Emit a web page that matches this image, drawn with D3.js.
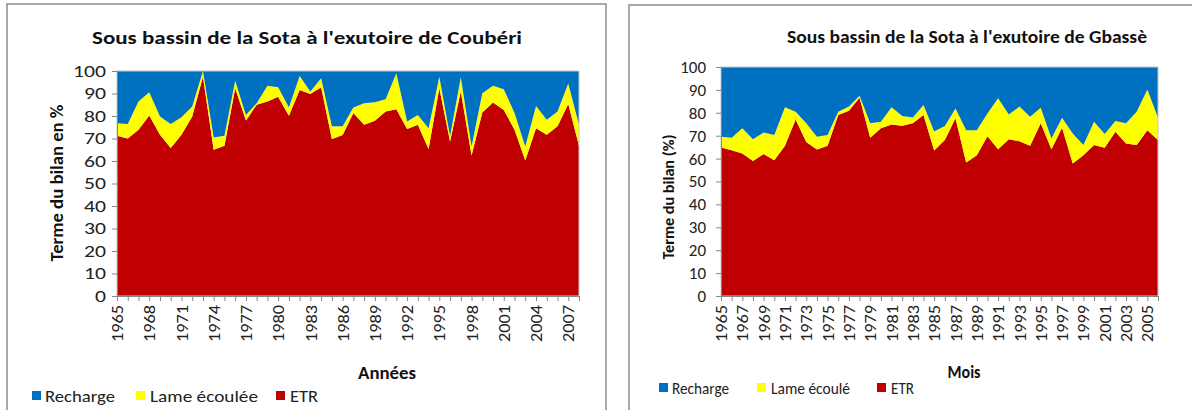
<!DOCTYPE html>
<html>
<head>
<meta charset="utf-8">
<script src="https://cdn.jsdelivr.net/npm/d3@7"></script>
<style>
  body { margin: 0; background: #fff; }
  svg { display: block; font-family: Carlito, Lato, sans-serif; }
</style>
</head>
<body>
<svg id="chart" width="1192" height="410"></svg>
<script>
// ---- Coubéri (left) ----
const yearsA = [1965,1966,1967,1968,1969,1970,1971,1972,1973,1974,1975,1976,1977,1978,1979,1980,1981,1982,1983,1984,1985,1986,
  1987,1988,1989,1990,1991,1992,1993,1994,1995,1996,1997,1998,1999,2000,2001,2002,2003,2004,2005,2006,2007,2008];
const etrA = [71.2,70,73.9,80.2,71.7,65.8,71.7,79.8,97.5,65,66.8,92.3,78,85,86.4,88.6,80.1,91.6,89.8,92.8,69.8,71.6,
  81.3,76.1,77.9,82,83,74.2,76.1,65.3,92.3,68.7,90.9,62.5,81.6,86,82.7,73.9,60.2,74.6,71.7,75.4,85.3,66.8];
const lameA = [5.6,6.4,12.5,10.4,8.1,10.6,7.7,4.4,2.5,5.5,4.4,3.4,2.5,0.7,7,4.2,3.7,6.2,1.1,4,5.6,3.8,
  2.5,9.6,8.2,5.5,16,3.4,4.4,9.3,5.2,2.3,6.3,4,8.5,7.4,9.2,7.4,6.3,9.9,6.6,6.6,9.2,9.3];
const rechargeA = [23.2,23.6,13.6,9.4,20.2,23.6,20.6,15.8,0,29.5,28.8,4.3,19.5,14.3,6.6,7.2,16.2,2.2,9.1,3.2,24.6,24.6,
  16.2,14.3,13.9,12.5,1,22.4,19.5,25.4,2.5,29,2.8,33.5,9.9,6.6,8.1,18.7,33.5,15.5,21.7,18,5.5,23.9];
const labelYearsA = [1965,1968,1971,1974,1977,1980,1983,1986,1989,1992,1995,1998,2001,2004,2007];

// ---- Gbassè (right) ----
const yearsB = [1965,1966,1967,1968,1969,1970,1971,1972,1973,1974,1975,1976,1977,1978,1979,1980,1981,1982,1983,1984,1985,
  1986,1987,1988,1989,1990,1991,1992,1993,1994,1995,1996,1997,1998,1999,2000,2001,2002,2003,2004,2005,2006];
const etrB = [64.9,63.7,62.2,58.9,62,59.3,65.6,77.1,67.3,64,65.6,79,80.9,86.6,69.1,73.2,74.9,74.3,75.4,79,63.5,
  68.1,77.6,58.3,61.5,69.8,64.1,68.4,67.6,65.6,75.4,64.1,73.5,57.9,61.5,65.9,64.7,71.7,66.6,65.9,72.4,68.1];
const lameB = [4.6,5.4,11,9.5,9.4,11,16.8,3.4,8.1,5.5,4.7,1.5,1.8,0.9,6.3,2.9,7.5,4.3,2.6,4.4,8.3,
  6.1,4.3,14.1,10.9,9.9,22.2,10.9,15.1,12.7,6.8,4.7,4.3,13.1,4.4,10.2,6,4.7,8.8,14.6,17.8,9.7];
const rechargeB = [30.5,30.9,26.8,31.6,28.6,29.7,17.6,19.5,24.6,30.5,29.7,19.5,17.3,12.5,24.6,23.9,17.6,21.4,22,16.6,28.2,
  25.8,18.1,27.6,27.6,20.3,13.7,20.7,17.3,21.7,17.8,31.2,22.2,29,34.1,23.9,29.3,23.6,24.6,19.5,9.8,22.2];
const labelYearsB = [1965,1967,1969,1971,1973,1975,1977,1979,1981,1983,1985,1987,1989,1991,1993,1995,1997,1999,2001,2003,2005];

const yTicks = [0,10,20,30,40,50,60,70,80,90,100];
const keys = ["etr", "lame", "recharge"];
const colors = { recharge: "#0070C0", lame: "#FFFF00", etr: "#C00000" };

const svg = d3.select("#chart");

// the original picture is a bit stretched sideways, so text widths are forced
function fit(sel, len) {
  return sel.attr("textLength", len).attr("lengthAdjust", "spacingAndGlyphs");
}

function drawChart(c) {
  const rows = c.years.map((y, i) => ({ year: y, etr: c.etr[i], lame: c.lame[i], recharge: c.recharge[i] }));
  const series = d3.stack().keys(keys)(rows);

  const x = d3.scaleLinear().domain(d3.extent(c.years)).range([c.plot.left, c.plot.right]);
  const y = d3.scaleLinear().domain([0, 100]).range([c.plot.bottom, c.plot.top]);

  // frame
  svg.append("rect")
    .attr("x", c.frame.x).attr("y", c.frame.y)
    .attr("width", c.frame.w).attr("height", c.frame.h)
    .attr("fill", "none").attr("stroke", "#8c8c8c").attr("stroke-width", 1.5);

  const area = d3.area()
    .x(d => x(d.data.year))
    .y0(d => y(d[0]))
    .y1(d => y(d[1]));

  svg.append("g").selectAll("path")
    .data(series)
    .join("path")
    .attr("fill", d => colors[d.key])
    .attr("d", area);

  // plot border
  svg.append("rect")
    .attr("x", c.plot.left).attr("y", c.plot.top)
    .attr("width", c.plot.right - c.plot.left).attr("height", c.plot.bottom - c.plot.top)
    .attr("fill", "none").attr("stroke", "#c8c8c8").attr("stroke-width", 1);

  // y axis
  const yAxis = svg.append("g")
    .attr("transform", `translate(${c.plot.left},0)`)
    .call(d3.axisLeft(y).tickValues(yTicks).tickSize(5).tickSizeOuter(0).tickPadding(c.yPad));
  yAxis.selectAll("text")
    .attr("font-size", c.yFont).attr("fill", "#222").attr("font-family", "Carlito, Lato, sans-serif")
    .each(function() { fit(d3.select(this), this.textContent.length * c.yDigit); });

  // x axis
  const xAxis = svg.append("g")
    .attr("transform", `translate(0,${c.plot.bottom})`)
    .call(d3.axisBottom(x).tickValues(c.years).tickSize(5).tickSizeOuter(0)
      .tickFormat(d => c.labels.includes(d) ? d : ""));
  xAxis.selectAll("text")
    .attr("font-size", 16).attr("fill", "#222").attr("font-family", "Carlito, Lato, sans-serif")
    .attr("text-anchor", "end")
    .attr("transform", "rotate(-90)")
    .attr("x", -9).attr("y", 0).attr("dy", "0.35em")
    .filter(function() { return this.textContent !== ""; })
    .call(fit, 37);

  [yAxis, xAxis].forEach(g => g.selectAll("path, line").attr("stroke", "#868686"));

  // titles
  svg.append("text")
    .attr("x", c.title.x).attr("y", c.title.y)
    .attr("text-anchor", "middle").attr("font-weight", c.title.weight)
    .attr("font-size", c.title.size).attr("fill", "#111")
    .text(c.title.text)
    .call(fit, c.title.len);

  svg.append("text")
    .attr("transform", `translate(${c.yTitle.x},${c.yTitle.y}) rotate(-90)`)
    .attr("text-anchor", "middle").attr("font-weight", "bold")
    .attr("font-size", c.yTitle.size).attr("fill", "#111")
    .text(c.yTitle.text)
    .call(fit, c.yTitle.len);

  svg.append("text")
    .attr("x", c.xTitle.x).attr("y", c.xTitle.y)
    .attr("text-anchor", "middle").attr("font-weight", "bold")
    .attr("font-size", 17).attr("fill", "#111")
    .text(c.xTitle.text)
    .call(fit, c.xTitle.len);

  // legend
  const lg = svg.append("g").selectAll("g")
    .data(c.legend)
    .join("g")
    .attr("transform", d => `translate(${d.x},${c.legendY})`);
  lg.append("rect")
    .attr("x", 0).attr("y", -5).attr("width", 9).attr("height", 9)
    .attr("fill", d => colors[d.key]);
  lg.append("text")
    .attr("x", d => d.tx).attr("y", 0).attr("dy", "0.35em")
    .attr("font-size", 17).attr("fill", "#222")
    .text(d => d.label)
    .each(function(d) { fit(d3.select(this), d.len); });
}

drawChart({
  years: yearsA, etr: etrA, lame: lameA, recharge: rechargeA, labels: labelYearsA,
  frame: { x: 7, y: 4, w: 599, h: 420 },
  plot: { left: 117, right: 579, top: 71, bottom: 296 },
  yPad: 6, yFont: 17, yDigit: 11,
  title: { text: "Sous bassin de la Sota à l'exutoire de Coubéri", x: 307, y: 44, size: 19, weight: "bold", len: 430 },
  yTitle: { text: "Terme du bilan en %", x: 63, y: 183, size: 17, len: 157 },
  xTitle: { text: "Années", x: 387, y: 379, len: 58 },
  legendY: 396,
  legend: [
    { key: "recharge", label: "Recharge", x: 32, tx: 13, len: 70 },
    { key: "lame", label: "Lame écoulée", x: 136, tx: 14, len: 108 },
    { key: "etr", label: "ETR", x: 276, tx: 14, len: 28 }
  ]
});

drawChart({
  years: yearsB, etr: etrB, lame: lameB, recharge: rechargeB, labels: labelYearsB,
  frame: { x: 629, y: 5, w: 600, h: 420 },
  plot: { left: 721, right: 1158, top: 67, bottom: 296 },
  yPad: 10, yFont: 17, yDigit: 8.6,
  title: { text: "Sous bassin de la Sota à l'exutoire de Gbassè", x: 967, y: 43, size: 17, weight: "600", len: 360 },
  yTitle: { text: "Terme du bilan (%)", x: 674, y: 197, size: 15, len: 125 },
  xTitle: { text: "Mois", x: 964, y: 378, len: 33 },
  legendY: 388,
  legend: [
    { key: "recharge", label: "Recharge", x: 659, tx: 13, len: 57 },
    { key: "lame", label: "Lame écoulé", x: 757, tx: 14, len: 79 },
    { key: "etr", label: "ETR", x: 877, tx: 14, len: 23 }
  ]
});
</script>
</body>
</html>
